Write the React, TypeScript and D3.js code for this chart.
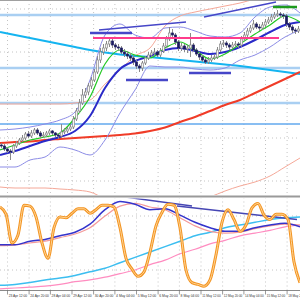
import React from 'react'
import * as d3 from 'd3'

// EURUSD H4 candles, prices in pips above 1.3000 (each bar opens at the previous close)
const firstOpen = 100
const closes = [98, 92, 88, 86, 98, 104, 110, 114, 122, 118, 124, 130, 124, 118, 120, 124, 128, 124, 120, 118,
	126, 128, 132, 136, 152, 168, 184, 200, 206, 218, 230, 246, 270, 286, 294, 302, 308, 300, 296, 294,
	286, 282, 278, 274, 266, 258, 254, 264, 274, 280, 284, 286, 280, 288, 298, 312, 324, 320, 306, 294,
	298, 292, 294, 300, 290, 282, 276, 270, 266, 270, 274, 276, 290, 302, 304, 300, 296, 300, 302, 300,
	312, 320, 328, 334, 342, 336, 334, 340, 346, 350, 356, 360, 362, 360, 358, 342, 336, 330, 328, 332]
const highs = [104, 102, 96, 92, 102, 108, 114, 120, 126, 128, 130, 134, 134, 128, 126, 128, 132, 130, 126, 124,
	142, 134, 136, 142, 158, 174, 192, 212, 214, 224, 236, 252, 278, 294, 302, 308, 316, 314, 304, 302,
	298, 292, 288, 284, 280, 270, 262, 268, 278, 286, 290, 294, 290, 294, 304, 318, 336, 332, 324, 310,
	304, 302, 300, 324, 304, 294, 286, 280, 274, 276, 280, 282, 296, 308, 310, 308, 304, 306, 308, 306,
	318, 326, 334, 340, 350, 346, 342, 346, 352, 356, 362, 366, 370, 366, 364, 362, 346, 340, 334, 338]
const lows = [94, 88, 84, 70, 82, 94, 100, 106, 110, 114, 114, 120, 120, 114, 114, 116, 120, 120, 116, 112,
	114, 122, 124, 128, 132, 148, 164, 180, 194, 200, 212, 226, 242, 264, 280, 288, 296, 294, 290, 288,
	282, 276, 272, 268, 260, 252, 246, 248, 260, 270, 276, 280, 276, 276, 284, 294, 308, 314, 300, 288,
	288, 286, 284, 276, 286, 278, 270, 266, 262, 262, 266, 270, 272, 286, 296, 294, 290, 292, 296, 294,
	296, 308, 316, 324, 330, 332, 328, 330, 336, 342, 346, 352, 356, 354, 352, 336, 330, 324, 322, 324]

// chart indicators, one value every 5 bars
const lineBars = d3.range(0, 101, 5)
const maSlow = [104, 106, 107, 110, 112, 114, 116, 118, 120, 123, 128, 135, 146, 156, 168, 180, 190, 204, 218, 232, 246]
const maMid = [80, 88, 98, 108, 116, 128, 158, 214, 252, 268, 278, 290, 294, 288, 282, 286, 296, 310, 326, 340, 346]
const maFast = [90, 100, 110, 116, 124, 154, 196, 262, 290, 280, 274, 294, 306, 290, 272, 282, 302, 322, 340, 358, 346]
const maLong = [326, 320, 314, 308, 302, 296, 290, 285, 281, 278, 276, 273, 270, 267, 264, 261, 258, 254, 250, 246, 242]
const bbUpper = [130, 132, 136, 142, 150, 166, 230, 320, 342, 320, 314, 334, 336, 328, 318, 316, 324, 356, 376, 380, 364]
const bbLower = [56, 56, 70, 76, 96, 90, 80, 110, 164, 210, 258, 256, 256, 252, 250, 254, 270, 280, 296, 316, 330]
const envUpper = [182, 182, 182, 182, 182, 184, 190, 222, 250, 278, 294, 338, 358, 366, 372, 378, 384, 392, 400, 408, 416]
const envLower = [16, 14, 14, 14, 12, 10, 6, -8, -22, -30, -32, -30, -24, -14, -4, 8, 18, 26, 38, 56, 74]

// horizontal levels and drawn lines (bar from/to, price from/to)
const lightLevels = [360, 254, 184]
const blueLevel = 142
const drawnLines = [
	{ b0: 33, b1: 62, p0: 330, p1: 346, color: '#4646c8', w: 1.5 },
	{ b0: 68, b1: 92, p0: 356, p1: 386, color: '#4646c8', w: 1.5 },
	{ b0: 30, b1: 44, p0: 324, p1: 324, color: '#4646c8', w: 2.5 },
	{ b0: 42, b1: 56, p0: 230, p1: 230, color: '#4646c8', w: 2.5 },
	{ b0: 63, b1: 77, p0: 244, p1: 244, color: '#4646c8', w: 2.5 },
	{ b0: 91, b1: 99, p0: 376, p1: 376, color: '#1e9a1e', w: 2.5 },
	{ b0: 31, b1: 93, p0: 314, p1: 314, color: '#ff3c8c', w: 2 },
]

// oscillator panel: fast line every 2 bars, the others every 5 bars
const oscBars = d3.range(0, 101, 2)
const oscMain = [90, 82, 50, 59, 92, 91, 79, 50, 33, 67, 79, 78, 83, 88, 88, 83, 87, 92, 92, 90,
	67, 33, 21, 13, 18, 40, 69, 84, 93, 92, 67, 20, 6, 4, 2, 9, 37, 73, 87, 76,
	63, 70, 89, 94, 81, 76, 82, 82, 76, 29, 6]
const oscSignal = [48, 48, 52, 54, 58, 62, 71, 87, 96, 93, 87, 88, 81, 73, 67, 63, 63, 67, 70, 72, 68]
const oscSignalSlow = [47, 48, 50, 52, 56, 60, 67, 80, 91, 94, 90, 87, 78, 69, 63, 61, 62, 66, 69, 71, 70]
const oscTrendA = [3, 4, 6, 9, 11, 14, 18, 22, 28, 34, 40, 46, 52, 58, 62, 67, 70, 73, 76, 78, 79]
const oscTrendB = [-1, 0, 1, 2, 4, 7, 9, 12, 16, 20, 26, 31, 38, 43, 49, 53, 58, 61, 64, 68, 70]
const oscDrawn = [
	{ b0: 42, b1: 64, p0: 101, p1: 91 },
	{ b0: 59, b1: 99, p0: 91, p1: 76 },
]

// time axis
const tickBars = [2.5, 9.7, 16.8, 24, 31.2, 38.3, 45.5, 52.7, 59.8, 67, 74.2, 81.3, 88.5, 95.7]
const tickLabels = ['23 Apr 12:00', '24 Apr 20:00', '28 Apr 04:00', '29 Apr 12:00', '30 Apr 20:00', '4 May 04:00',
	'5 May 12:00', '6 May 20:00', '8 May 04:00', '11 May 12:00', '12 May 20:00', '14 May 04:00', '15 May 12:00', '18 May 20:00']

const mainGrid = [372, 286, 200, 114, 28]
const oscGrid = [20, 80]

const App = () => {
	const width = 300
	const height = 300
	const mainBottom = 195
	const oscTop = 197.5
	const axisY = 290.5

	const x = d3.scaleLinear().domain([0, 100]).range([0, width])
	const y = d3.scaleLinear().domain([0, 390]).range([mainBottom, 0])
	const yo = d3.scaleLinear().domain([0, 100]).range([288, 198])

	const priceLine = (vals: number[]) => d3.line<number>()
		.x((_, k) => x(lineBars[k]))
		.y(v => y(v))
		.curve(d3.curveMonotoneX)(vals) || ''
	const oscLine = (vals: number[], bars: number[]) => d3.line<number>()
		.x((_, k) => x(bars[k]))
		.y(v => yo(v))
		.curve(d3.curveMonotoneX)(vals) || ''

	const opens = closes.map((c, i) => (i === 0 ? firstOpen : closes[i - 1]))

	return (
		<svg width={width} height={height} style={{ position: 'fixed', left: 0, top: 0, background: '#fff' }}
			fontFamily="Liberation Sans, Arial, sans-serif">
			<defs>
				<clipPath id="mainClip"><rect x={0} y={1} width={width} height={mainBottom - 1} /></clipPath>
				<clipPath id="oscClip"><rect x={0} y={oscTop + 1} width={width} height={axisY - oscTop - 1} /></clipPath>
			</defs>

			{/* main panel */}
			<g clipPath="url(#mainClip)">
				{mainGrid.map(v => (
					<line key={`g${v}`} x1={0} x2={width} y1={y(v)} y2={y(v)} stroke="#c4c4c4" strokeDasharray="1 3" />
				))}
				{tickBars.map(b => (
					<line key={`gv${b}`} x1={x(b)} x2={x(b)} y1={0} y2={mainBottom} stroke="#c4c4c4" strokeDasharray="1 3" />
				))}
				{lightLevels.map(v => (
					<line key={`l${v}`} x1={0} x2={width} y1={y(v)} y2={y(v)} stroke="#a9cff2" strokeWidth={2.5} />
				))}
				<line x1={0} x2={width} y1={y(blueLevel)} y2={y(blueLevel)} stroke="#62a8ee" strokeWidth={1.5} />

				<path d={priceLine(envUpper)} fill="none" stroke="#f5a898" strokeWidth={1} />
				<path d={priceLine(envLower)} fill="none" stroke="#f5a898" strokeWidth={1} />
				<path d={priceLine(maLong)} fill="none" stroke="#14b4f0" strokeWidth={2} />
				<path d={priceLine(maSlow)} fill="none" stroke="#f03c28" strokeWidth={2} />
				<path d={priceLine(bbUpper)} fill="none" stroke="#8c8ce6" strokeWidth={1} />
				<path d={priceLine(bbLower)} fill="none" stroke="#8c8ce6" strokeWidth={1} />
				<path d={priceLine(maMid)} fill="none" stroke="#2a2ac8" strokeWidth={2} />
				<path d={priceLine(maFast)} fill="none" stroke="#22c822" strokeWidth={1.2} />

				{closes.map((c, i) => {
					const o = opens[i]
					const cx = x(i + 0.5)
					const top = y(Math.max(o, c))
					const h = Math.max(1, Math.abs(y(o) - y(c)))
					const bull = c >= o
					return (
						<g key={`c${i}`}>
							<line x1={cx} x2={cx} y1={y(highs[i])} y2={y(lows[i])} stroke="#8a8a8a" strokeWidth={1} />
							<rect x={cx - 1} y={top} width={2} height={h}
								fill={bull ? '#f4f4f4' : '#1c1c60'} stroke={bull ? '#8a8a8a' : '#1c1c60'} strokeWidth={0.7} />
						</g>
					)
				})}

				{drawnLines.map((d, k) => (
					<line key={`d${k}`} x1={x(d.b0)} x2={x(d.b1)} y1={y(d.p0)} y2={y(d.p1)} stroke={d.color} strokeWidth={d.w} />
				))}
			</g>

			{/* frames */}
			<line x1={0} x2={width} y1={0.5} y2={0.5} stroke="#a0a0a0" />
			<rect x={0} y={mainBottom + 0.5} width={width} height={2} fill="#9a9a9a" />

			{/* oscillator panel */}
			<g clipPath="url(#oscClip)">
				{oscGrid.map(v => (
					<line key={`og${v}`} x1={0} x2={width} y1={yo(v)} y2={yo(v)} stroke="#c4c4c4" strokeDasharray="1 3" />
				))}
				{tickBars.map(b => (
					<line key={`ogv${b}`} x1={x(b)} x2={x(b)} y1={oscTop} y2={axisY} stroke="#c4c4c4" strokeDasharray="1 3" />
				))}
				<path d={oscLine(oscTrendB, lineBars)} fill="none" stroke="#ff8cc0" strokeWidth={1.2} />
				<path d={oscLine(oscTrendA, lineBars)} fill="none" stroke="#3cbef0" strokeWidth={1.5} />
				<path d={oscLine(oscSignalSlow, lineBars)} fill="none" stroke="#f49a9a" strokeWidth={1.2} />
				<path d={oscLine(oscSignal, lineBars)} fill="none" stroke="#3434cc" strokeWidth={1.5} />
				{oscDrawn.map((d, k) => (
					<line key={`od${k}`} x1={x(d.b0)} x2={x(d.b1)} y1={yo(d.p0)} y2={yo(d.p1)} stroke="#4646b4" strokeWidth={1.5} />
				))}
				<path d={oscLine(oscMain, oscBars)} fill="none" stroke="#f39422" strokeWidth={3} />
				<path d={oscLine(oscMain, oscBars)} fill="none" stroke="#ffd494" strokeWidth={1} />
			</g>

			{/* time axis; the last label runs off the right edge as in the screenshot */}
			<line x1={0} x2={width} y1={axisY} y2={axisY} stroke="#8a8a8a" />
			{tickBars.map((b, k) => (
				<g key={`t${k}`}>
					<line x1={x(b)} x2={x(b)} y1={axisY} y2={axisY + 4} stroke="#555" strokeWidth={0.6} />
					<text x={x(b) + 1.2} y={axisY + 6} fontSize={3.6} fill="#333"
						textLength={18.5} lengthAdjust="spacingAndGlyphs">
						{tickLabels[k]}
					</text>
				</g>
			))}
		</svg>
	)
}

export default App
